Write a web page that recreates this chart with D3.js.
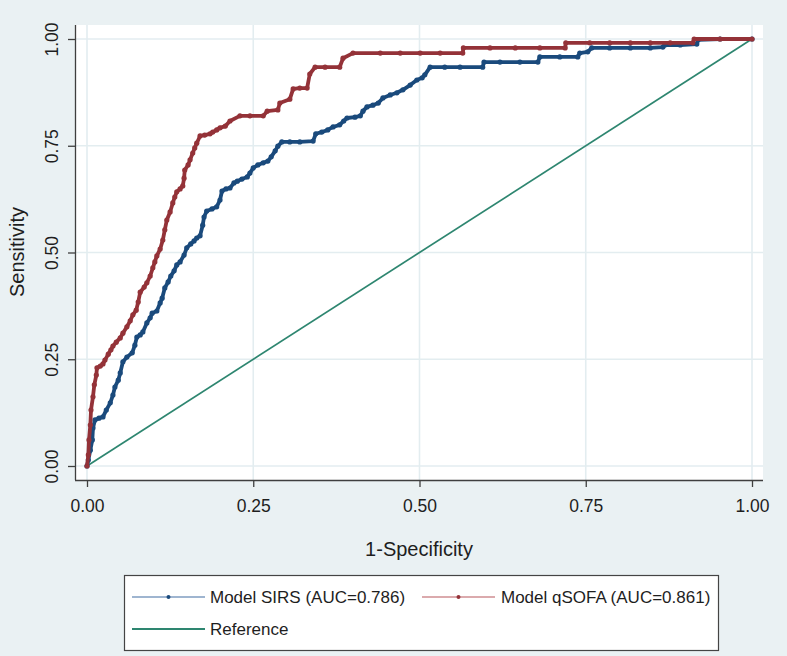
<!DOCTYPE html>
<html>
<head>
<meta charset="utf-8">
<script src="https://cdn.jsdelivr.net/npm/d3@7"></script>
<style>
  html, body { margin: 0; padding: 0; background: #eaf1f3; }
  svg { display: block; font-family: "Liberation Sans", Arial, sans-serif; }
</style>
</head>
<body>
<svg id="chart" width="787" height="656"></svg>
<script>
// ---- Data ----
const sirsFPR = [0,0.002,0.005,0.008,0.009,0.012,0.018,0.024,0.029,0.035,0.039,0.042,0.047,0.050,0.054,0.060,0.068,0.072,0.075,0.080,0.084,0.090,0.095,0.098,0.105,0.110,0.113,0.117,0.122,0.126,0.131,0.135,0.140,0.146,0.150,0.156,0.161,0.165,0.170,0.174,0.176,0.180,0.188,0.195,0.200,0.203,0.209,0.215,0.221,0.226,0.233,0.241,0.245,0.250,0.257,0.265,0.272,0.277,0.283,0.287,0.293,0.305,0.320,0.340,0.344,0.353,0.362,0.370,0.380,0.386,0.391,0.403,0.411,0.415,0.421,0.430,0.438,0.445,0.456,0.466,0.475,0.486,0.496,0.504,0.508,0.516,0.538,0.561,0.595,0.597,0.621,0.651,0.678,0.681,0.711,0.738,0.741,0.753,0.759,0.786,0.817,0.847,0.866,0.869,0.892,0.917,0.919,0.952,1.0];
const sirsTPR = [0,0.014,0.037,0.061,0.089,0.108,0.112,0.115,0.131,0.148,0.166,0.185,0.201,0.218,0.244,0.255,0.265,0.283,0.302,0.307,0.314,0.335,0.347,0.358,0.363,0.382,0.393,0.417,0.431,0.445,0.457,0.471,0.478,0.494,0.511,0.520,0.527,0.534,0.539,0.564,0.583,0.597,0.602,0.607,0.623,0.644,0.649,0.651,0.663,0.667,0.672,0.677,0.686,0.698,0.705,0.710,0.714,0.724,0.738,0.749,0.759,0.759,0.759,0.761,0.778,0.782,0.787,0.794,0.799,0.808,0.815,0.817,0.820,0.831,0.841,0.845,0.850,0.862,0.869,0.874,0.881,0.892,0.904,0.909,0.916,0.934,0.934,0.934,0.934,0.946,0.946,0.946,0.946,0.958,0.958,0.958,0.967,0.970,0.979,0.979,0.979,0.979,0.981,0.986,0.986,0.988,0.998,1.0,1.0];

const qsofaFPR = [0,0.002,0.003,0.005,0.006,0.009,0.011,0.014,0.015,0.020,0.024,0.027,0.032,0.036,0.039,0.044,0.050,0.054,0.060,0.065,0.069,0.074,0.077,0.080,0.086,0.090,0.095,0.099,0.102,0.105,0.110,0.114,0.117,0.120,0.125,0.129,0.132,0.135,0.140,0.144,0.146,0.147,0.152,0.155,0.159,0.162,0.165,0.170,0.177,0.185,0.189,0.195,0.200,0.208,0.215,0.230,0.245,0.265,0.271,0.287,0.290,0.305,0.310,0.320,0.331,0.335,0.343,0.358,0.380,0.385,0.400,0.441,0.471,0.501,0.531,0.565,0.566,0.606,0.644,0.681,0.719,0.720,0.756,0.786,0.817,0.847,0.877,0.911,0.913,0.952,1.0];
const qsofaTPR = [0,0.026,0.061,0.096,0.131,0.162,0.190,0.213,0.230,0.234,0.239,0.248,0.262,0.272,0.281,0.290,0.300,0.311,0.326,0.340,0.354,0.365,0.384,0.407,0.419,0.429,0.445,0.464,0.478,0.492,0.508,0.529,0.553,0.576,0.595,0.616,0.630,0.642,0.649,0.656,0.674,0.693,0.705,0.717,0.733,0.745,0.756,0.773,0.775,0.778,0.782,0.787,0.792,0.796,0.808,0.820,0.820,0.820,0.831,0.834,0.850,0.859,0.883,0.885,0.885,0.918,0.934,0.934,0.934,0.955,0.967,0.967,0.967,0.967,0.967,0.967,0.979,0.979,0.979,0.979,0.979,0.991,0.991,0.991,0.991,0.991,0.991,0.991,1.0,1.0,1.0];

const refFPR = [0, 1];
const refTPR = [0, 1];

const tickValues = [0, 0.25, 0.5, 0.75, 1];
const tickLabels = ["0.00", "0.25", "0.50", "0.75", "1.00"];

const seriesNames = ["Model SIRS (AUC=0.786)", "Model qSOFA (AUC=0.861)", "Reference"];
const xTitle = "1-Specificity";
const yTitle = "Sensitivity";

// ---- Styles ----
const C = {
  bg: "#eaf1f3", plot: "#ffffff", grid: "#e3edf0", axis: "#3f3f3f", text: "#1e1e1e",
  sirs: "#1a4a7c", sirsLight: "#7f9dc0",
  qsofa: "#943238", qsofaLight: "#cf8e92",
  ref: "#2e8670"
};

const svg = d3.select("#chart");
svg.append("rect").attr("width", 787).attr("height", 656).attr("fill", C.bg);

const plotL = 75, plotR = 763, plotT = 25, plotB = 480;
const x = d3.scaleLinear().domain([0, 1]).range([87, 752]);
const y = d3.scaleLinear().domain([0, 1]).range([466, 39]);

svg.append("rect").attr("x", plotL).attr("y", plotT)
  .attr("width", plotR - plotL).attr("height", plotB - plotT).attr("fill", C.plot);

// gridlines
const g = svg.append("g");
g.selectAll(".vg").data(tickValues).join("line")
  .attr("x1", d => x(d)).attr("x2", d => x(d)).attr("y1", plotT).attr("y2", plotB)
  .attr("stroke", C.grid).attr("stroke-width", 1.6);
g.selectAll(".hg").data(tickValues).join("line")
  .attr("y1", d => y(d)).attr("y2", d => y(d)).attr("x1", plotL).attr("x2", plotR)
  .attr("stroke", C.grid).attr("stroke-width", 1.6);

// axes
const xAxis = d3.axisBottom(x).tickValues(tickValues).tickFormat((d, i) => tickLabels[i]).tickSize(7).tickSizeOuter(0);
const yAxis = d3.axisLeft(y).tickValues(tickValues).tickFormat((d, i) => tickLabels[i]).tickSize(7).tickSizeOuter(0);

const gx = svg.append("g").attr("transform", `translate(0,${plotB})`).call(xAxis);
gx.select(".domain").attr("d", `M${plotL},0.5H${plotR}`);
gx.selectAll(".domain, .tick line").attr("stroke", C.axis).attr("stroke-width", 1.3);
gx.selectAll(".tick text").attr("font-size", 17.5).attr("fill", C.text).attr("dy", 0).attr("y", 32)
  .attr("font-family", "Liberation Sans, Arial, sans-serif");

const gy = svg.append("g").attr("transform", `translate(${plotL},0)`).call(yAxis);
gy.select(".domain").attr("d", `M0.5,${plotT}V${plotB}`);
gy.selectAll(".domain, .tick line").attr("stroke", C.axis).attr("stroke-width", 1.3);
gy.selectAll(".tick text").attr("font-size", 17.5).attr("fill", C.text)
  .attr("x", 0).attr("dy", 0).attr("text-anchor", "middle")
  .attr("transform", "translate(-17,0) rotate(-90)")
  .attr("font-family", "Liberation Sans, Arial, sans-serif");

// reference diagonal
const line = d3.line().x(d => x(d[0])).y(d => y(d[1]));
svg.append("path").datum(d3.zip(refFPR, refTPR)).attr("d", line)
  .attr("fill", "none").attr("stroke", C.ref).attr("stroke-width", 1.7);

// ROC curves
function drawCurve(fpr, tpr, col) {
  const pts = d3.zip(fpr, tpr);
  svg.append("path").datum(pts).attr("d", line)
    .attr("fill", "none").attr("stroke", col).attr("stroke-width", 3.8).attr("stroke-linejoin", "round");
  svg.append("g").selectAll("circle").data(pts).join("circle")
    .attr("cx", d => x(d[0])).attr("cy", d => y(d[1])).attr("r", 2.6).attr("fill", col);
}
drawCurve(sirsFPR, sirsTPR, C.sirs);
drawCurve(qsofaFPR, qsofaTPR, C.qsofa);

// axis titles
svg.append("text").attr("x", 419).attr("y", 556).attr("text-anchor", "middle")
  .attr("font-size", 20).attr("fill", C.text).text(xTitle);
svg.append("text").attr("transform", "translate(24,252) rotate(-90)").attr("text-anchor", "middle")
  .attr("font-size", 20).attr("fill", C.text).text(yTitle);

// legend
const lg = svg.append("g");
lg.append("rect").attr("x", 124.5).attr("y", 575.5).attr("width", 594).attr("height", 75)
  .attr("fill", "#fff").attr("stroke", "#444").attr("stroke-width", 1.2);
const legendItems = [
  { name: seriesNames[0], lx: 132, ly: 597, tx: 210, light: C.sirsLight, dark: C.sirs, marker: true },
  { name: seriesNames[1], lx: 422, ly: 597, tx: 501, light: C.qsofaLight, dark: C.qsofa, marker: true },
  { name: seriesNames[2], lx: 132, ly: 629, tx: 210, light: C.ref, dark: C.ref, marker: false }
];
legendItems.forEach(it => {
  lg.append("line").attr("x1", it.lx).attr("x2", it.lx + 73).attr("y1", it.ly).attr("y2", it.ly)
    .attr("stroke", it.light).attr("stroke-width", it.marker ? 1.3 : 2);
  if (it.marker) lg.append("circle").attr("cx", it.lx + 36.5).attr("cy", it.ly).attr("r", 2).attr("fill", it.dark);
  lg.append("text").attr("x", it.tx).attr("y", it.ly + 6).attr("font-size", 17).attr("fill", C.text).text(it.name);
});
</script>
</body>
</html>
